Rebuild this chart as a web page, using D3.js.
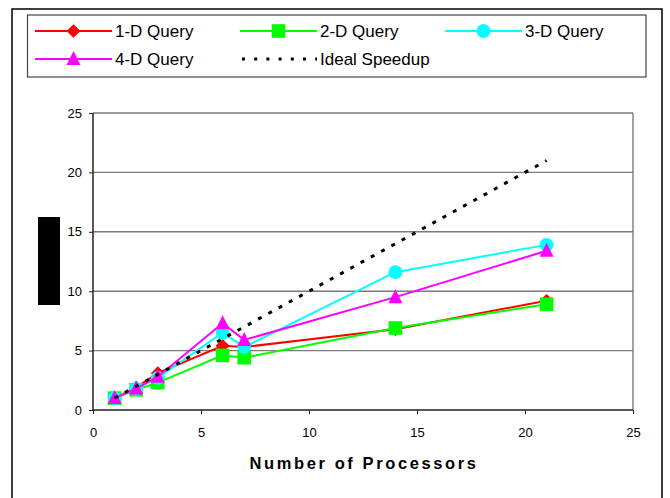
<!DOCTYPE html>
<html><head><meta charset="utf-8">
<script src="https://cdn.jsdelivr.net/npm/d3@7"></script>
<style>body{margin:0;background:#fff}svg{display:block}text{font-family:"Liberation Sans",Arial,sans-serif}</style>
</head><body>
<script>
const processors = [1, 2, 3, 6, 7, 14, 21];
const query1D = [1, 1.9, 3.1, 5.4, 5.3, 6.8, 9.2];
const query2D = [1, 1.7, 2.3, 4.6, 4.4, 6.9, 8.9];
const query3D = [1, 1.8, 2.7, 6.5, 5.3, 11.6, 13.9];
const query4D = [1, 1.8, 2.8, 7.3, 5.9, 9.5, 13.4];
const idealSpeedup = [1, 2, 3, 6, 7, 14, 21];
const xTicks = [0, 5, 10, 15, 20, 25];
const yTicks = [0, 5, 10, 15, 20, 25];
const seriesNames = ["1-D Query", "2-D Query", "3-D Query", "4-D Query", "Ideal Speedup"];

const W = 670, H = 498;
const svg = d3.select("body").append("svg").attr("width", W).attr("height", H);

// outer border
svg.append("rect").attr("x", 12).attr("y", 9).attr("width", 650).attr("height", 500)
  .attr("fill", "none").attr("stroke", "#000").attr("stroke-width", 1.5);

const m = {l: 93, r: 633, t: 113, b: 410};
const x = d3.scaleLinear().domain([0, 25]).range([m.l, m.r]);
const y = d3.scaleLinear().domain([0, 25]).range([m.b, m.t]);

// gridlines
svg.append("g").selectAll("line").data(yTicks.filter(d => d > 0)).join("line")
  .attr("x1", m.l).attr("x2", m.r).attr("y1", d => y(d)).attr("y2", d => y(d))
  .attr("stroke", "#7a7a7a").attr("stroke-width", 1.4);
// right border
svg.append("line").attr("x1", m.r).attr("x2", m.r).attr("y1", m.t).attr("y2", m.b)
  .attr("stroke", "#7a7a7a").attr("stroke-width", 1.4);

// axes
const xAxis = d3.axisBottom(x).tickValues(xTicks).tickSize(4).tickPadding(14);
const gx = svg.append("g").attr("transform", `translate(0,${m.b})`).call(xAxis);
const yAxis = d3.axisLeft(y).tickValues(yTicks).tickSize(4).tickPadding(7);
const gy = svg.append("g").attr("transform", `translate(${m.l},0)`).call(yAxis);
[gx, gy].forEach(g => {
  g.select(".domain").attr("stroke", "#222").attr("stroke-width", 1.5);
  g.selectAll(".tick line").attr("stroke", "#222");
  g.selectAll(".tick text").attr("font-size", 13).attr("fill", "#000")
    .style("font-family", '"Liberation Sans",Arial,sans-serif');
});
gx.select(".domain").attr("d", `M${m.l},0H${m.r}`);
gy.select(".domain").attr("d", `M0,${m.b}V${m.t}`);

// y-axis title (redacted block)
svg.append("rect").attr("x", 38).attr("y", 217).attr("width", 22).attr("height", 88).attr("fill", "#000");

// x-axis title
svg.append("text").attr("x", 364).attr("y", 469).attr("text-anchor", "middle")
  .attr("font-size", 16.5).attr("font-weight", "bold").attr("letter-spacing", 2.6)
  .text("Number of Processors");

const series = [
  {name: seriesNames[0], vals: query1D, color: "#ff0000", sym: "diamond"},
  {name: seriesNames[1], vals: query2D, color: "#00ff00", sym: "square"},
  {name: seriesNames[2], vals: query3D, color: "#00ffff", sym: "circle"},
  {name: seriesNames[3], vals: query4D, color: "#ff00ff", sym: "triangle"},
  {name: seriesNames[4], vals: idealSpeedup, color: "#000", sym: null, dash: true}
];

const line = d3.line().x((d, i) => x(processors[i])).y(d => y(d));

function drawMarker(g, s, cx, cy) {
  const p = d3.path();
  if (s.sym === "diamond") {
    p.moveTo(cx, cy - 6.8); p.lineTo(cx + 7, cy); p.lineTo(cx, cy + 6.8); p.lineTo(cx - 7, cy); p.closePath();
    g.append("path").attr("d", p.toString()).attr("fill", s.color);
  } else if (s.sym === "triangle") {
    p.moveTo(cx, cy - 8); p.lineTo(cx + 7, cy + 6); p.lineTo(cx - 7, cy + 6); p.closePath();
    g.append("path").attr("d", p.toString()).attr("fill", s.color);
  } else if (s.sym === "square") {
    g.append("rect").attr("x", cx - 6.8).attr("y", cy - 6.8).attr("width", 13.6).attr("height", 13.6).attr("fill", s.color);
  } else if (s.sym === "circle") {
    g.append("circle").attr("cx", cx).attr("cy", cy).attr("r", 6.9).attr("fill", s.color);
  }
}

series.forEach(s => {
  const g = svg.append("g");
  g.append("path").datum(s.vals).attr("d", line).attr("fill", "none")
    .attr("stroke", s.color).attr("stroke-width", s.dash ? 3 : 2)
    .attr("stroke-dasharray", s.dash ? "4,7.7" : null);
  if (s.sym) s.vals.forEach((v, i) => drawMarker(g, s, x(processors[i]), y(v)));
});

// legend
svg.append("rect").attr("x", 27.5).attr("y", 15).attr("width", 618.5).attr("height", 62)
  .attr("fill", "none").attr("stroke", "#444").attr("stroke-width", 1.2);
const legPos = [[35, 31], [240, 31], [445, 31], [35, 59], [240, 59]];
series.forEach((s, i) => {
  const [lx, ly] = legPos[i];
  const g = svg.append("g");
  g.append("line").attr("x1", s.dash ? lx + 2 : lx).attr("x2", lx + 77).attr("y1", ly).attr("y2", ly)
    .attr("stroke", s.color).attr("stroke-width", s.dash ? 3 : 2)
    .attr("stroke-dasharray", s.dash ? "3,9.2" : null);
  if (s.sym) drawMarker(g, s, lx + 38.5, ly);
  g.append("text").attr("x", lx + 80).attr("y", ly + 6).attr("font-size", 17).text(s.name);
});
</script>
</body></html>
